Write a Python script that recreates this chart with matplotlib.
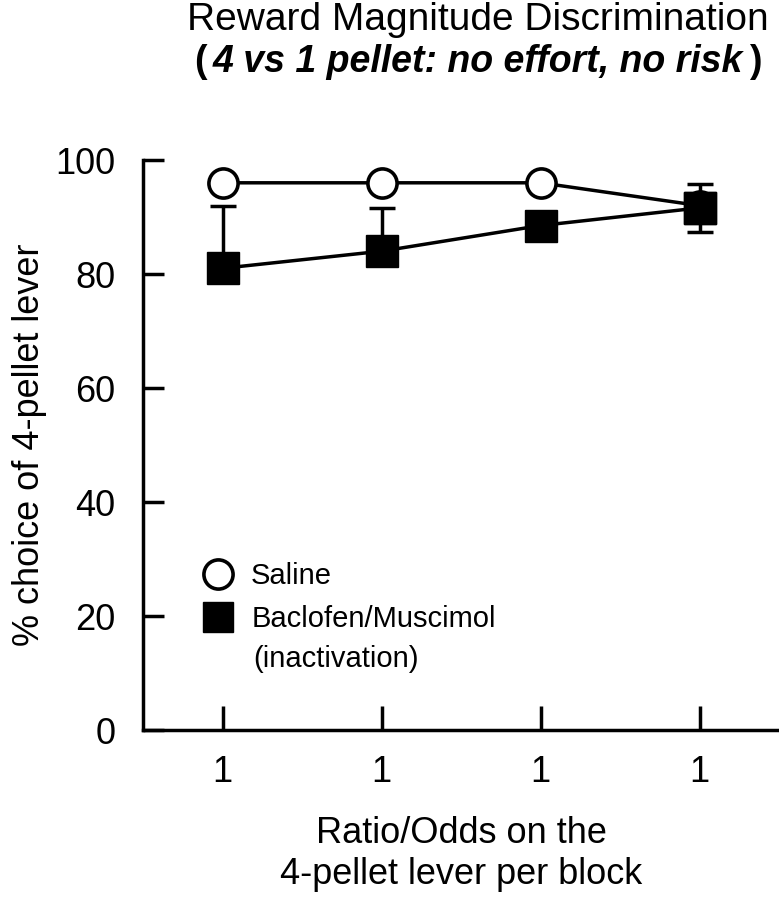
import matplotlib
matplotlib.use("Agg")
import matplotlib.pyplot as plt
from matplotlib.lines import Line2D

plt.rcParams['font.family'] = ['Liberation Sans', 'DejaVu Sans']

blocks = [1, 2, 3, 4]
tick_labels = ["1", "1", "1", "1"]
saline = [96, 96, 96, 92]
baclofen = [81, 84, 88.5, 91.6]
baclofen_err_lo = [0, 0, 0, 4.2]
baclofen_err_hi = [11, 7.5, 0, 4.2]

fig = plt.figure(figsize=(7.79, 9.0), dpi=100)
ax = fig.add_axes([143/779, 1 - 730/900, (779-143)/779, (730-160)/900])

lw = 2.5
ax.errorbar(blocks, baclofen, yerr=[baclofen_err_lo, baclofen_err_hi], fmt='none',
            ecolor='black', elinewidth=lw, capsize=9.5, capthick=lw, zorder=2,
            clip_on=False)
ax.plot(blocks, baclofen, color='black', lw=lw, marker='s', markersize=23,
        markerfacecolor='black', markeredgecolor='black', zorder=3, clip_on=False)
ax.plot(blocks, saline, color='black', lw=lw, marker='o', markersize=21,
        markerfacecolor='white', markeredgecolor='black', markeredgewidth=2.6,
        zorder=4, clip_on=False)
# last baclofen marker drawn on top of the saline one
ax.plot(blocks[3:], baclofen[3:], ls='none', marker='s', markersize=23,
        color='black', zorder=5, clip_on=False)

ax.set_xlim(0.5, 4.5)
ax.set_ylim(0, 100)
ax.set_xticks(blocks)
ax.set_xticklabels(tick_labels)
ax.set_yticks([0, 20, 40, 60, 80, 100])
for s in ['top', 'right']:
    ax.spines[s].set_visible(False)
for s in ['left', 'bottom']:
    ax.spines[s].set_linewidth(2.5)
ax.tick_params(axis='both', direction='in', width=2.5, labelsize=26)
ax.tick_params(axis='y', length=15, pad=20)
ax.tick_params(axis='x', length=17, pad=18)

ax.set_ylabel("% choice of 4-pellet lever", fontsize=26, labelpad=6)
ax.set_xlabel("Ratio/Odds on the\n4-pellet lever per block", fontsize=26,
              labelpad=19, linespacing=1.2)

xc = 478 / 779
fig.text(xc, 1 - 30/900, "Reward Magnitude Discrimination", fontsize=28,
         ha='center', va='baseline')
mid = fig.text(xc, 1 - 72/900, "4 vs 1 pellet: no effort, no risk", fontsize=27,
               ha='center', va='baseline', fontweight='bold', style='italic')
fig.canvas.draw()
bb = mid.get_window_extent()
fig.text(bb.x0 / fig.bbox.width - 0.008, 1 - 72/900, "(", fontsize=27,
         ha='right', va='baseline', fontweight='bold')
fig.text(bb.x1 / fig.bbox.width + 0.008, 1 - 72/900, ")", fontsize=27,
         ha='left', va='baseline', fontweight='bold')

handles = [
    Line2D([], [], ls='none', marker='o', markersize=21, markerfacecolor='white',
           markeredgecolor='black', markeredgewidth=2.6),
    Line2D([], [], ls='none', marker='s', markersize=22, color='black'),
]
ax.legend(handles, ["Saline", "Baclofen/Muscimol"],
          loc='upper left', bbox_to_anchor=(0.06, 0.33), frameon=False,
          fontsize=21, handletextpad=0.6, labelspacing=0.5, handlelength=1.1,
          borderpad=0.2)
ax.text((253 - 143) / 636, (730 - 667) / 570, "(inactivation)", fontsize=21,
        transform=ax.transAxes, ha='left', va='baseline')

fig.savefig("out.png", dpi=100)
